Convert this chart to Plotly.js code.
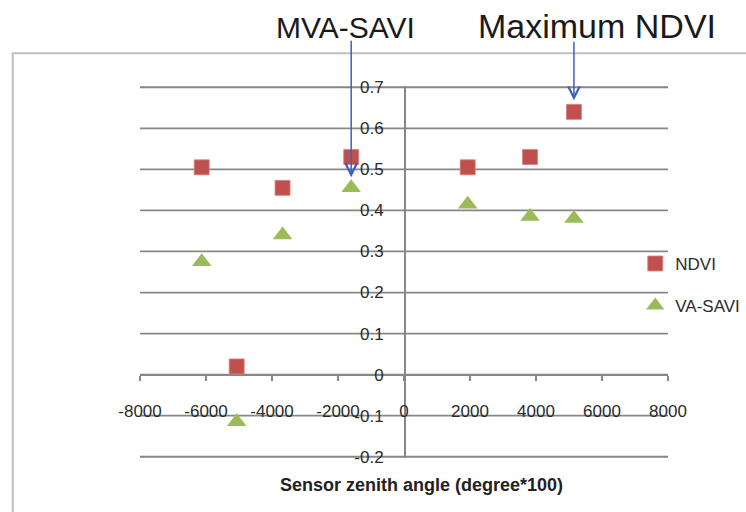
<!DOCTYPE html>
<html>
<head>
<meta charset="utf-8">
<script src="https://cdn.plot.ly/plotly-3.0.1.min.js"></script>
<style>
  html, body { margin: 0; padding: 0; background: #ffffff; }
  #chart { width: 746px; height: 512px; }
</style>
</head>
<body>
<div id="chart"></div>
<script>
// Sensor zenith angle (degree*100) for each observation
const zenithAngle = [-6130, -5070, -3680, -1600, 1930, 3820, 5150];
// Vegetation index values at each angle
const ndvi   = [0.505, 0.02, 0.455, 0.53, 0.505, 0.53, 0.64];
const vaSavi = [0.275, -0.115, 0.34, 0.455, 0.415, 0.385, 0.38];

// Axis ticks
const xTickVals = [-8000, -6000, -4000, -2000, 0, 2000, 4000, 6000, 8000];
const xTickText = ['-8000', '-6000', '-4000', '-2000', '0', '2000', '4000', '6000', '8000'];
const yTickVals = [-0.2, -0.1, 0, 0.1, 0.2, 0.3, 0.4, 0.5, 0.6, 0.7];
const yTickText = ['-0.2', '-0.1', '0', '0.1', '0.2', '0.3', '0.4', '0.5', '0.6', '0.7'];

const xRange = [-8000, 8000];
// a hair of padding so the outermost gridlines are not cut by the plot clip
const yRange = [-0.203, 0.703];

// Index of the callouts
const iMvaSavi = vaSavi.indexOf(Math.max(...vaSavi));
const iMaxNdvi = ndvi.indexOf(Math.max(...ndvi));

const gridGray = '#878787';
const baseFont = 'Liberation Sans, Arial, sans-serif';
const tickFont = { family: baseFont, size: 17, color: '#2b2b2b' };
const arrowBlue = '#3f5fbd';

const traces = [
  {
    type: 'scatter', mode: 'markers', name: 'NDVI', legendgroup: 'a',
    x: zenithAngle, y: ndvi,
    marker: { symbol: 'square', size: 15, color: '#C0504D', line: { width: 0.8, color: '#d9807e' } },
    hoverinfo: 'x+y'
  },
  {
    type: 'scatter', mode: 'markers', name: 'VA-SAVI', legendgroup: 'b',
    x: zenithAngle, y: vaSavi,
    marker: { symbol: 'triangle-up', size: 17, color: '#9BBB59', line: { width: 0 } },
    hoverinfo: 'x+y'
  }
];

// the axes cross at the origin
const xAxisPos = (0 - yRange[0]) / (yRange[1] - yRange[0]);
const yAxisPos = (0 - xRange[0]) / (xRange[1] - xRange[0]);

// horizontal gridlines at every y tick
const gridShapes = yTickVals.map(v => ({
  type: 'line', xref: 'paper', yref: 'y', layer: 'below',
  x0: 0, x1: 1, y0: v, y1: v,
  line: { color: gridGray, width: 1.8 }
}));

const layout = {
  width: 746, height: 512,
  margin: { l: 140, r: 78, t: 86, b: 54, autoexpand: false },
  paper_bgcolor: '#ffffff', plot_bgcolor: '#ffffff',
  showlegend: true,
  legend: {
    x: 0.938, xanchor: 'left', y: 0.57, yanchor: 'top',
    font: { family: baseFont, size: 17, color: '#2b2b2b' },
    tracegroupgap: 17, bgcolor: 'rgba(0,0,0,0)'
  },
  xaxis: {
    range: xRange, tickvals: xTickVals, ticktext: xTickText,
    anchor: 'free', position: xAxisPos,
    showgrid: false, zeroline: false,
    showline: true, linecolor: gridGray, linewidth: 1.8,
    ticks: 'outside', ticklen: 5, tickwidth: 1.5, tickcolor: gridGray,
    ticklabelstandoff: 15,
    tickfont: tickFont
  },
  yaxis: {
    range: yRange, tickvals: yTickVals, ticktext: yTickText,
    anchor: 'free', position: yAxisPos,
    showgrid: false, zeroline: false,
    showline: true, linecolor: gridGray, linewidth: 1.8,
    ticks: '', ticklabelstandoff: 17,
    tickfont: tickFont
  },
  shapes: [
    {
      type: 'rect', xref: 'paper', yref: 'paper', layer: 'below',
      x0: -0.241, x1: 1.2, y0: 1.088, y1: -0.2,
      line: { color: '#c0c0c0', width: 2 }, fillcolor: 'rgba(0,0,0,0)'
    }
  ].concat(gridShapes),
  annotations: [
    {
      xref: 'paper', yref: 'paper', x: 0.534, y: -0.073,
      xanchor: 'center', yanchor: 'middle', showarrow: false,
      text: '<b>Sensor zenith angle (degree*100)</b>',
      font: { family: baseFont, size: 18, color: '#222222' }
    },
    {
      xref: 'paper', yref: 'paper', x: 0.39, y: 1.157,
      xanchor: 'center', yanchor: 'middle', showarrow: false,
      text: 'MVA-SAVI',
      font: { family: baseFont, size: 30, color: '#1a1a1a' }
    },
    {
      xref: 'paper', yref: 'paper', x: 0.865, y: 1.161,
      xanchor: 'center', yanchor: 'middle', showarrow: false,
      text: 'Maximum NDVI',
      font: { family: baseFont, size: 34, color: '#1a1a1a' }
    },
    {
      x: zenithAngle[iMvaSavi], y: vaSavi[iMvaSavi] + 0.026, xref: 'x', yref: 'y',
      text: '', showarrow: true, ax: 0, ay: -138,
      arrowhead: 5, arrowsize: 1.5, arrowwidth: 1.5, arrowcolor: arrowBlue
    },
    {
      x: zenithAngle[iMaxNdvi], y: ndvi[iMaxNdvi] + 0.028, xref: 'x', yref: 'y',
      text: '', showarrow: true, ax: 0, ay: -60,
      arrowhead: 5, arrowsize: 1.5, arrowwidth: 1.5, arrowcolor: arrowBlue
    }
  ]
};

Plotly.newPlot('chart', traces, layout, { displayModeBar: false, staticPlot: true });
</script>
</body>
</html>
